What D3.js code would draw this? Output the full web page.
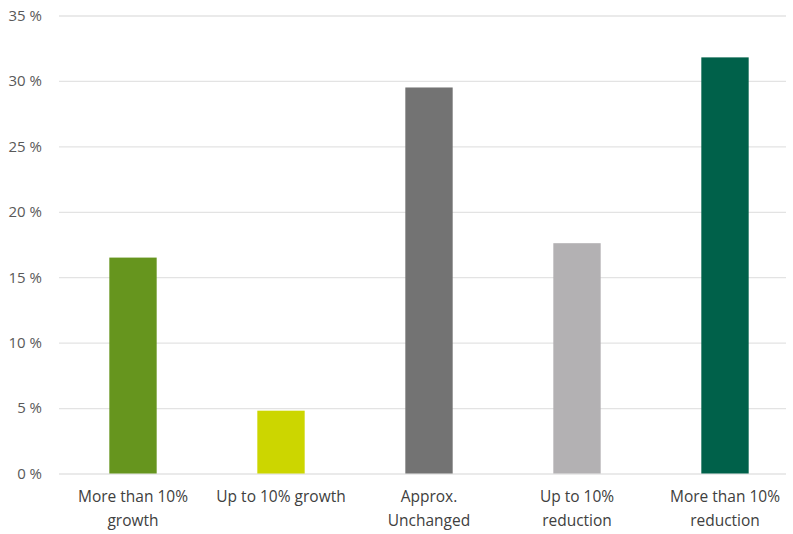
<!DOCTYPE html>
<html>
<head>
<meta charset="utf-8">
<script src="https://cdn.jsdelivr.net/npm/d3@7"></script>
<style>
  html, body { margin: 0; padding: 0; background: #ffffff; }
  svg text { font-family: "Open Sans", "Noto Sans", sans-serif; }
</style>
</head>
<body>
<svg id="chart" width="793" height="534"></svg>
<script>
// Share of respondents by expected change
const categories = [
  ["More than 10%", "growth"],
  ["Up to 10% growth"],
  ["Approx.", "Unchanged"],
  ["Up to 10%", "reduction"],
  ["More than 10%", "reduction"]
];
const values = [16.5, 4.8, 29.5, 17.6, 31.8];
const colors = ["#66951e", "#ccd600", "#737373", "#b3b1b3", "#00614a"];
const yTicks = [0, 5, 10, 15, 20, 25, 30, 35];

const svg = d3.select("#chart");
const plotLeft = 59, plotRight = 799, plotTop = 15.5, plotBottom = 473.5;

const x = d3.scaleBand()
  .domain(d3.range(categories.length))
  .range([plotLeft, plotRight])
  .paddingInner(0.68)
  .paddingOuter(0.34);

const y = d3.scaleLinear().domain([0, 35]).range([plotBottom, plotTop]);

// Horizontal gridlines and percentage labels
const yAxis = d3.axisLeft(y)
  .tickValues(yTicks)
  .tickSize(-(786 - plotLeft))
  .tickFormat(d => d + " %");

const gy = svg.append("g")
  .attr("transform", `translate(${plotLeft},0)`)
  .call(yAxis);
gy.select(".domain").remove();
gy.selectAll(".tick line").attr("stroke", "#e3e3e3").attr("stroke-width", 1.3);
gy.selectAll(".tick text")
  .attr("x", -17)
  .attr("fill", "#595959")
  .style("font-size", "15px");

// Bars
svg.append("g").selectAll("rect")
  .data(values)
  .join("rect")
  .attr("x", (d, i) => x(i))
  .attr("y", d => y(d))
  .attr("width", x.bandwidth())
  .attr("height", d => y(0) - y(d))
  .attr("fill", (d, i) => colors[i]);

// Category labels under the bars
const lab = svg.append("g").selectAll("text")
  .data(categories)
  .join("text")
  .attr("text-anchor", "middle")
  .attr("fill", "#404040")
  .style("font-size", "15.5px")
  .attr("transform", (d, i) => `translate(${x(i) + x.bandwidth() / 2},502)`);

lab.selectAll("tspan")
  .data(d => d)
  .join("tspan")
  .attr("x", 0)
  .attr("dy", (d, j) => j === 0 ? 0 : 24)
  .text(d => d);
</script>
</body>
</html>
